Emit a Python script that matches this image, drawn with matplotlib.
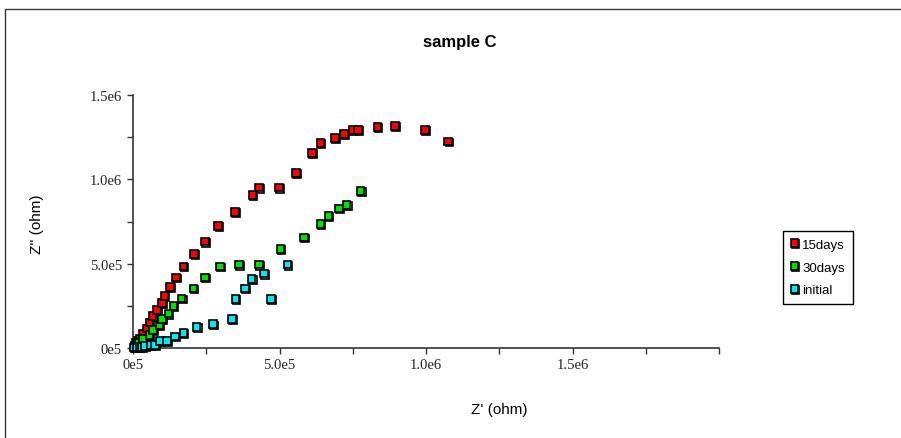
import matplotlib
matplotlib.use("Agg")
import matplotlib.pyplot as plt
import matplotlib.patheffects as pe
from matplotlib.patches import Rectangle

# Impedance data (Z' real part, Z'' imaginary part), in ohm
days15_zre = [0.005e6, 0.010e6, 0.018e6, 0.024e6, 0.035e6, 0.047e6, 0.056e6, 0.067e6, 0.081e6,
              0.098e6, 0.107e6, 0.126e6, 0.147e6, 0.172e6, 0.209e6, 0.246e6, 0.291e6,
              0.348e6, 0.408e6, 0.430e6, 0.499e6, 0.556e6, 0.610e6, 0.640e6, 0.689e6,
              0.720e6, 0.749e6, 0.769e6, 0.834e6, 0.894e6, 0.997e6, 1.076e6]
days15_zim = [0.010e6, 0.030e6, 0.040e6, 0.053e6, 0.082e6, 0.116e6, 0.151e6, 0.190e6, 0.225e6,
              0.265e6, 0.308e6, 0.363e6, 0.419e6, 0.484e6, 0.557e6, 0.631e6, 0.725e6,
              0.806e6, 0.906e6, 0.951e6, 0.951e6, 1.039e6, 1.155e6, 1.216e6, 1.245e6,
              1.269e6, 1.294e6, 1.294e6, 1.312e6, 1.318e6, 1.292e6, 1.225e6]

days30_zre = [0.005e6, 0.012e6, 0.020e6, 0.035e6, 0.056e6, 0.069e6, 0.090e6, 0.100e6, 0.121e6,
              0.138e6, 0.166e6, 0.206e6, 0.246e6, 0.297e6, 0.362e6, 0.430e6, 0.503e6,
              0.584e6, 0.640e6, 0.667e6, 0.703e6, 0.729e6, 0.777e6]
days30_zim = [0.008e6, 0.020e6, 0.030e6, 0.053e6, 0.076e6, 0.108e6, 0.137e6, 0.171e6, 0.204e6,
              0.249e6, 0.294e6, 0.353e6, 0.419e6, 0.484e6, 0.494e6, 0.494e6, 0.586e6,
              0.655e6, 0.735e6, 0.782e6, 0.827e6, 0.847e6, 0.931e6]

initial_zre = [0.004e6, 0.012e6, 0.022e6, 0.030e6, 0.040e6, 0.060e6, 0.075e6, 0.092e6, 0.115e6,
               0.143e6, 0.172e6, 0.217e6, 0.272e6, 0.337e6, 0.350e6, 0.382e6, 0.405e6,
               0.447e6, 0.471e6, 0.527e6]
initial_zim = [0.003e6, 0.004e6, 0.005e6, 0.005e6, 0.010e6, 0.018e6, 0.018e6, 0.043e6, 0.043e6,
               0.069e6, 0.088e6, 0.125e6, 0.141e6, 0.171e6, 0.292e6, 0.353e6, 0.410e6,
               0.441e6, 0.292e6, 0.494e6]

series_labels = ["15days", "30days", "initial"]
series_colors = ["#ff0000", "#00e000", "#00e8f0"]

x_ticks = [0, 2.5e5, 5e5, 7.5e5, 1e6, 1.25e6, 1.5e6, 1.75e6, 2e6]
x_tick_labels = ["0e5", "", "5.0e5", "", "1.0e6", "", "1.5e6", "", ""]
y_ticks = [0, 2.5e5, 5e5, 7.5e5, 1e6, 1.25e6, 1.5e6]
y_tick_labels = ["0e5", "", "5.0e5", "", "1.0e6", "", "1.5e6"]

plt.rcParams["font.family"] = ["Liberation Sans", "DejaVu Sans"]

W, H = 901, 439
fig = plt.figure(figsize=(W / 100, H / 100), dpi=100)
fig.patch.set_facecolor("white")

ax = fig.add_axes([133 / W, 1 - 349 / H, (719 - 133) / W, (349 - 96) / H])
ax.set_xlim(0, 2e6)
ax.set_ylim(0, 1.5e6)
ax.set_facecolor("none")

shadow = [pe.SimpleLineShadow(offset=(0.8, -0.8), shadow_color="black", alpha=1.0),
          pe.Normal()]
for xs, ys, lab, col in zip([days15_zre, days30_zre, initial_zre],
                            [days15_zim, days30_zim, initial_zim],
                            series_labels, series_colors):
    ax.plot(xs, ys, linestyle="none", marker="s", markersize=5.5,
            markerfacecolor=col, markeredgecolor="black", markeredgewidth=1.2,
            label=lab, clip_on=False, zorder=3, path_effects=shadow)

for s in ["top", "right"]:
    ax.spines[s].set_visible(False)
for s in ["left", "bottom"]:
    ax.spines[s].set_color("#333333")
    ax.spines[s].set_linewidth(1.2)

ax.set_xticks(x_ticks)
ax.set_xticklabels(x_tick_labels)
ax.set_yticks(y_ticks)
ax.set_yticklabels(y_tick_labels)
ax.tick_params(axis="both", direction="out", length=4, width=1.0, color="#333333",
               labelsize=10.5, labelcolor="#222222")
ax.tick_params(axis="x", pad=3)
ax.tick_params(axis="y", pad=4)
for t in ax.get_xticklabels() + ax.get_yticklabels():
    t.set_family(["Liberation Serif", "DejaVu Serif"])

fig.text(460 / W, 1 - 42 / H, "sample C", ha="center", va="center", fontsize=12,
         fontweight="bold")
fig.text(499 / W, 1 - 410 / H, "Z' (ohm)", ha="center", va="center", fontsize=11)
fig.text(37 / W, 1 - 224 / H, "Z'' (ohm)", ha="center", va="center", fontsize=11,
         rotation=90)

leg = ax.legend(loc="upper left", bbox_to_anchor=(776 / W, 1 - 225 / H),
                bbox_transform=fig.transFigure, fancybox=False, shadow=False,
                edgecolor="black", framealpha=1, fontsize=9.5, handlelength=0.6,
                handletextpad=0.3, borderpad=0.6, labelspacing=0.8, markerscale=1.0)
leg.get_frame().set_linewidth(1.0)

# outer chart frame
fig.patches.append(Rectangle((5 / W, -0.2), 1.2, 1 - 10 / H + 0.2, transform=fig.transFigure,
                             fill=False, edgecolor="#333333", linewidth=1.0))

fig.savefig("out.png", dpi=100)
